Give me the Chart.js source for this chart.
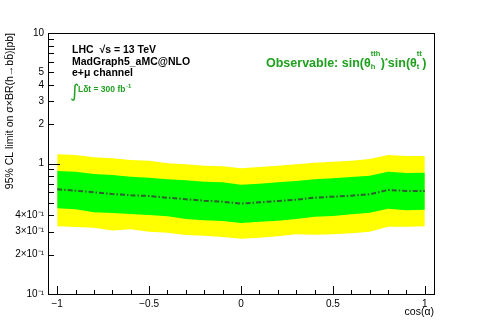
<!DOCTYPE html>
<html>
<head>
<meta charset="utf-8">
<script src="https://cdn.jsdelivr.net/npm/chart.js@4.4.0/dist/chart.umd.min.js"></script>
<style>
  html, body { margin: 0; padding: 0; background: #fff; }
  #wrap { width: 483px; height: 327px; }
</style>
</head>
<body>
<div id="wrap"><canvas id="limitChart" width="483" height="327"></canvas></div>
<script>
// expected 95% CL limit vs cos(alpha)
const cosAlpha = [-1.0, -0.9, -0.8, -0.7, -0.6, -0.5, -0.4, -0.3, -0.2, -0.1, 0.0,
                  0.1, 0.2, 0.3, 0.4, 0.5, 0.6, 0.7, 0.8, 0.9, 1.0];
const median   = [0.634, 0.619, 0.602, 0.584, 0.571, 0.564, 0.547, 0.532, 0.519, 0.510, 0.492,
                  0.504, 0.516, 0.528, 0.547, 0.557, 0.567, 0.581, 0.627, 0.616, 0.616];
const sigma1Up = [0.876, 0.865, 0.831, 0.816, 0.792, 0.778, 0.757, 0.744, 0.725, 0.718, 0.688,
                  0.700, 0.718, 0.734, 0.757, 0.770, 0.788, 0.806, 0.865, 0.846, 0.850];
const sigma1Dn = [0.454, 0.446, 0.423, 0.418, 0.410, 0.403, 0.394, 0.376, 0.367, 0.363, 0.350,
                  0.358, 0.364, 0.376, 0.391, 0.396, 0.408, 0.420, 0.450, 0.438, 0.443];
const sigma2Up = [1.176, 1.162, 1.116, 1.096, 1.064, 1.051, 1.003, 0.986, 0.962, 0.952, 0.919,
                  0.940, 0.962, 0.986, 1.014, 1.032, 1.051, 1.083, 1.162, 1.141, 1.141];
const sigma2Dn = [0.330, 0.326, 0.322, 0.306, 0.313, 0.300, 0.295, 0.283, 0.280, 0.273, 0.265,
                  0.270, 0.277, 0.287, 0.285, 0.287, 0.292, 0.300, 0.328, 0.328, 0.330];

const xTickValues = [-1, -0.5, 0, 0.5, 1];
const xTickLabels = ['\u22121', '\u22120.5', '0', '0.5', '1'];
const xMinorTicks = [-1, -0.9, -0.8, -0.7, -0.6, -0.5, -0.4, -0.3, -0.2, -0.1, 0,
                     0.1, 0.2, 0.3, 0.4, 0.5, 0.6, 0.7, 0.8, 0.9, 1];
const yTickValues = [0.1, 0.2, 0.3, 0.4, 1, 2, 3, 4, 5, 10];
const yTickLabels = ['10\u207B\u00B9', '2\u00D710\u207B\u00B9', '3\u00D710\u207B\u00B9', '4\u00D710\u207B\u00B9',
                     '1', '2', '3', '4', '5', '10'];
const yMinorTicks = [0.1, 0.2, 0.3, 0.4, 0.5, 0.6, 0.7, 0.8, 0.9, 1, 2, 3, 4, 5, 6, 7, 8, 9, 10];
const yMajorTicks = [0.1, 1, 10];

const FONT = '"Liberation Sans", Arial, Helvetica, sans-serif';
const GREEN_TEXT = '#1fa01f';

function toPoints(values) {
    return cosAlpha.map((c, i) => ({ x: c, y: values[i] }));
}

const frameTicks = {
    id: 'frameTicks',
    afterDraw(chart) {
        const { ctx, chartArea: a, scales: { x, y } } = chart;
        ctx.save();
        ctx.strokeStyle = '#000';
        ctx.lineWidth = 1;
        ctx.strokeRect(Math.round(a.left) + 0.5, Math.round(a.top) + 0.5,
                       Math.round(a.right - a.left), Math.round(a.bottom - a.top));
        ctx.beginPath();
        yMinorTicks.forEach(v => {
            const py = Math.round(y.getPixelForValue(v)) + 0.5;
            const len = yMajorTicks.includes(v) ? 12 : 6;
            ctx.moveTo(a.left, py);
            ctx.lineTo(a.left + len, py);
        });
        xMinorTicks.forEach(v => {
            const px = Math.round(x.getPixelForValue(v)) + 0.5;
            const len = xTickValues.includes(v) ? 8 : 4;
            ctx.moveTo(px, a.bottom);
            ctx.lineTo(px, a.bottom - len);
        });
        ctx.stroke();
        ctx.restore();
    }
};

const annotations = {
    id: 'annotations',
    afterDraw(chart) {
        const ctx = chart.ctx;
        ctx.save();
        ctx.textBaseline = 'alphabetic';
        ctx.textAlign = 'left';
        ctx.fillStyle = '#000';
        ctx.font = 'bold 10.5px ' + FONT;
        ctx.fillText('LHC  \u221As = 13 TeV', 72, 53);
        ctx.fillText('MadGraph5_aMC@NLO', 72, 65);
        ctx.fillText('e+\u03BC channel', 72, 76);

        // integrated luminosity
        ctx.fillStyle = GREEN_TEXT;
        ctx.font = '18px "DejaVu Sans", sans-serif';
        ctx.fillText('\u222B', 70, 97);
        ctx.font = 'bold 8.5px ' + FONT;
        ctx.fillText('L\u03B4t = 300 fb', 78, 92);
        let w = ctx.measureText('L\u03B4t = 300 fb').width;
        ctx.font = 'bold 6px ' + FONT;
        ctx.fillText('-1', 78 + w + 0.5, 88);

        // observable label
        let cx = 266;
        const base = 67;
        const big = 'bold 12.5px ' + FONT;
        const small = 'bold 7.5px ' + FONT;
        function put(t, font, dy) {
            ctx.font = font;
            ctx.fillText(t, cx, base + dy);
            return ctx.measureText(t).width;
        }
        function subsup(sub, sup) {
            ctx.font = small;
            const w1 = ctx.measureText(sub).width;
            const w2 = ctx.measureText(sup).width;
            ctx.fillText(sup, cx, base - 11);
            ctx.fillText(sub, cx, base + 2);
            cx += Math.max(w1, w2) + 0.5;
        }
        cx += put('Observable: sin(\u03B8', big, 0);
        subsup('h', 'tth');
        cx += put(')', big, 0);
        cx += put('*', small, -4);
        cx += put('sin(\u03B8', big, 0);
        subsup('t', 'tt');
        put(')', big, 0);
        ctx.restore();
    }
};

const ctx = document.getElementById('limitChart').getContext('2d');
new Chart(ctx, {
    type: 'line',
    data: {
        datasets: [
            { label: 'expected', data: toPoints(median), borderColor: '#2e5e2e', borderWidth: 2,
              borderDash: [5, 2, 1.5, 2], pointRadius: 0, fill: false, order: 0 },
            { label: '+1 sigma', data: toPoints(sigma1Up), borderWidth: 0, borderColor: 'rgba(0,0,0,0)',
              backgroundColor: '#00ff00', pointRadius: 0, fill: '+1', order: 1 },
            { label: '-1 sigma', data: toPoints(sigma1Dn), borderWidth: 0, borderColor: 'rgba(0,0,0,0)',
              pointRadius: 0, fill: false, order: 1 },
            { label: '+2 sigma', data: toPoints(sigma2Up), borderWidth: 0, borderColor: 'rgba(0,0,0,0)',
              backgroundColor: '#ffff00', pointRadius: 0, fill: '+1', order: 2 },
            { label: '-2 sigma', data: toPoints(sigma2Dn), borderWidth: 0, borderColor: 'rgba(0,0,0,0)',
              pointRadius: 0, fill: false, order: 2 }
        ]
    },
    options: {
        responsive: false,
        animation: false,
        devicePixelRatio: 1,
        layout: { padding: { top: 33, right: 49, left: 0, bottom: 0 } },
        elements: { line: { tension: 0 } },
        plugins: { legend: { display: false }, tooltip: { enabled: false } },
        scales: {
            x: {
                type: 'linear',
                min: -1.05,
                max: 1.05,
                afterFit: s => { s.height = 33; },
                afterBuildTicks: s => { s.ticks = xTickValues.map(v => ({ value: v })); },
                grid: { display: false, drawTicks: false },
                border: { display: false },
                ticks: {
                    autoSkip: false, maxRotation: 0, padding: 4, color: '#000',
                    font: { family: FONT, size: 10 },
                    callback: v => xTickLabels[xTickValues.indexOf(v)]
                },
                title: {
                    display: true, text: 'cos(\u03B1)', align: 'end', color: '#000',
                    font: { family: FONT, size: 10.5 }, padding: { top: 0, bottom: 9 }
                }
            },
            y: {
                type: 'logarithmic',
                min: 0.1,
                max: 10,
                afterFit: s => { s.width = 48; },
                afterBuildTicks: s => { s.ticks = yTickValues.map(v => ({ value: v })); },
                grid: { display: false, drawTicks: false },
                border: { display: false },
                ticks: {
                    autoSkip: false, padding: 4, color: '#000',
                    font: { family: FONT, size: 10 },
                    callback: v => yTickLabels[yTickValues.indexOf(v)]
                },
                title: {
                    display: true, text: '95% CL limit on \u03C3\u00D7BR(h\u2192bb\u0304)[pb]', align: 'end',
                    color: '#000', font: { family: FONT, size: 10.5 }, padding: { top: 4, bottom: 0 }
                }
            }
        }
    },
    plugins: [frameTicks, annotations]
});
</script>
</body>
</html>
